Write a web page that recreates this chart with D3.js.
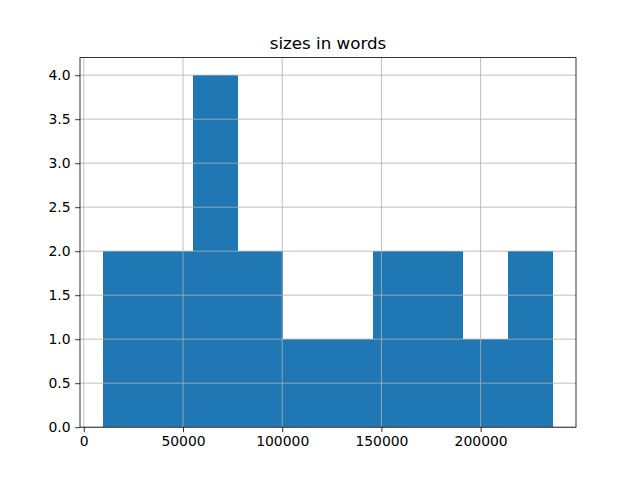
<!DOCTYPE html>
<html>
<head>
<meta charset="utf-8">
<script src="https://cdn.jsdelivr.net/npm/d3@7"></script>
<style>
  body { margin: 0; background: #fff; }
  svg { font-family: "DejaVu Sans", sans-serif; }
</style>
</head>
<body>
<div id="chart_div"></div>
<script>
// histogram of sizes in words (10 bins)
var binEdges = [9450, 32170, 54900, 77620, 100350, 123070, 145800, 168520, 191250, 213970, 236700];
var counts   = [2, 2, 4, 2, 1, 1, 2, 2, 1, 2];
var xTicks   = [0, 50000, 100000, 150000, 200000];
var yTicks   = [0, 0.5, 1.0, 1.5, 2.0, 2.5, 3.0, 3.5, 4.0];
var titleString = 'sizes in words';

function makeHist() {
  const W = 640, H = 480;
  const left = 80, right = 576, top = 57.6, bottom = 427.2;

  var bins = counts.map(function (c, i) {
    return { x0: binEdges[i], x1: binEdges[i + 1], count: c };
  });

  var span = binEdges[binEdges.length - 1] - binEdges[0];
  var xScale = d3.scaleLinear()
      .domain([binEdges[0] - 0.05 * span, binEdges[binEdges.length - 1] + 0.05 * span])
      .range([left, right]);

  var yScale = d3.scaleLinear()
      .domain([0, d3.max(counts) * 1.05])
      .range([bottom, top]);

  var svg = d3.select('#chart_div').append('svg')
      .attr('width', W)
      .attr('height', H);

  svg.append('rect')
    .attr('width', W).attr('height', H)
    .attr('fill', '#fff');

  // bars
  svg.append('g')
    .selectAll('rect')
    .data(bins)
    .enter()
    .append('rect')
    .attr('x', function (d) { return xScale(d.x0); })
    .attr('width', function (d) { return xScale(d.x1) - xScale(d.x0); })
    .attr('y', function (d) { return yScale(d.count); })
    .attr('height', function (d) { return yScale(0) - yScale(d.count); })
    .attr('fill', '#1f77b4')
    .attr('shape-rendering', 'crispEdges');

  // grid (over the bars, like matplotlib)
  var grid = svg.append('g')
      .attr('stroke', '#b0b0b0')
      .attr('stroke-width', 0.8);
  grid.selectAll('line.gx')
    .data(xTicks)
    .enter()
    .append('line')
    .attr('class', 'gx')
    .attr('x1', function (d) { return xScale(d); })
    .attr('x2', function (d) { return xScale(d); })
    .attr('y1', top).attr('y2', bottom);
  grid.selectAll('line.gy')
    .data(yTicks)
    .enter()
    .append('line')
    .attr('class', 'gy')
    .attr('y1', function (d) { return yScale(d); })
    .attr('y2', function (d) { return yScale(d); })
    .attr('x1', left).attr('x2', right);

  // axes
  var xAxis = svg.append('g')
      .attr('transform', `translate(0, ${bottom})`)
      .call(d3.axisBottom(xScale)
            .tickValues(xTicks)
            .tickSize(4.9)
            .tickPadding(4.5)
            .tickFormat(d3.format('d')));

  var yAxis = svg.append('g')
      .attr('transform', `translate(${left}, 0)`)
      .call(d3.axisLeft(yScale)
            .tickValues(yTicks)
            .tickSize(4.9)
            .tickPadding(4.5)
            .tickFormat(d3.format('.1f')));

  [xAxis, yAxis].forEach(function (ax) {
    ax.select('.domain').remove();
    ax.selectAll('.tick line').attr('stroke', '#000').attr('stroke-width', 0.8);
    ax.selectAll('.tick text')
      .attr('fill', '#000')
      .style('font-size', '13.9px')
      .style('font-family', '"DejaVu Sans", sans-serif');
  });

  // spines
  svg.append('rect')
    .attr('x', left).attr('y', top)
    .attr('width', right - left)
    .attr('height', bottom - top)
    .attr('fill', 'none')
    .attr('stroke', '#000')
    .attr('stroke-width', 0.8);

  svg.append('text')
    .attr('x', (left + right) / 2)
    .attr('y', top - 8.3)
    .attr('text-anchor', 'middle')
    .style('font-size', '16.7px')
    .text(titleString);
}

makeHist();
</script>
</body>
</html>
